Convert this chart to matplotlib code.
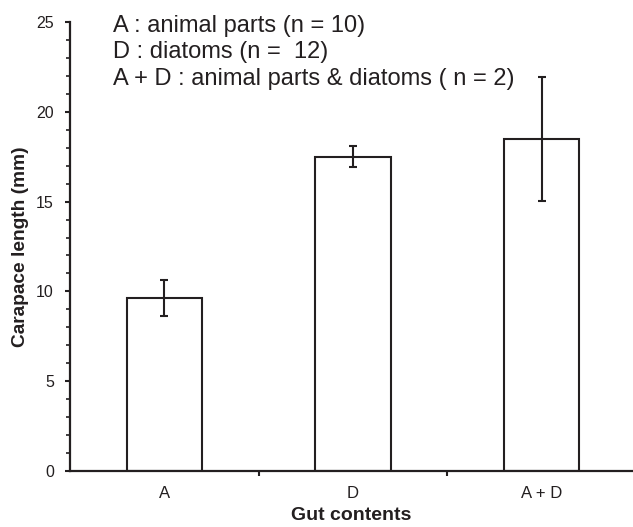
import numpy as np
import matplotlib
matplotlib.use("Agg")
import matplotlib.pyplot as plt
from matplotlib.ticker import MultipleLocator, FixedLocator, NullFormatter

plt.rcParams['font.family'] = ['Liberation Sans', 'DejaVu Sans']

# values
groups = ["A", "D", "A + D"]
mean_length = [9.65, 17.5, 18.5]
err_length = [1.0, 0.6, 3.45]
notes = [
    "A : animal parts (n = 10)",
    "D : diatoms (n =  12)",
    "A + D : animal parts & diatoms ( n = 2)",
]

W, H = 633, 527
ink = "#231f20"

fig = plt.figure(figsize=(W / 100, H / 100), dpi=100)
# axes box in pixels: left spine at x=70, y=0 at 471, y=25 at 22
ax = fig.add_axes([70 / W, (H - 471) / H, 1 - 70 / W, (471 - 22) / H])

x = np.arange(len(groups))
ax.bar(x, mean_length, width=0.4, color="white", edgecolor=ink, linewidth=1.5, zorder=2)
ax.errorbar(x, mean_length, yerr=err_length, fmt="none", ecolor=ink,
            elinewidth=1.5, capsize=3, capthick=1.5, zorder=3)

ax.set_xlim(-0.5, 2.485)
ax.set_ylim(0, 25)

for side in ("top", "right"):
    ax.spines[side].set_visible(False)
for side in ("left", "bottom"):
    ax.spines[side].set_linewidth(1.6)
    ax.spines[side].set_color(ink)

ax.yaxis.set_major_locator(MultipleLocator(5))
ax.yaxis.set_minor_locator(MultipleLocator(1))
ax.tick_params(axis="y", which="major", length=3.6, width=1.5, color=ink,
               labelsize=11.5, labelcolor=ink, pad=8)
ax.tick_params(axis="y", which="minor", length=2.9, width=1.2, color=ink)

# group labels sit between the ticks, ticks mark the group boundaries
ax.xaxis.set_major_locator(FixedLocator([0.5, 1.5]))
ax.xaxis.set_major_formatter(NullFormatter())
ax.set_xticks(x, groups, minor=True)
ax.tick_params(axis="x", which="major", length=3.5, width=1.5, color=ink)
ax.tick_params(axis="x", which="minor", length=0, labelsize=12, labelcolor=ink, pad=11)

ax.set_xlabel("Gut contents", fontsize=14, fontweight="bold", color=ink, labelpad=4)
ax.set_ylabel("Carapace length (mm)", fontsize=13.8, fontweight="bold", color=ink, labelpad=5)

for i, line in enumerate(notes):
    fig.text(113 / W, 1 - (32 + i * 26.3) / H, line, fontsize=17,
             ha="left", va="baseline", color=ink)

fig.savefig("out.png", dpi=100)
